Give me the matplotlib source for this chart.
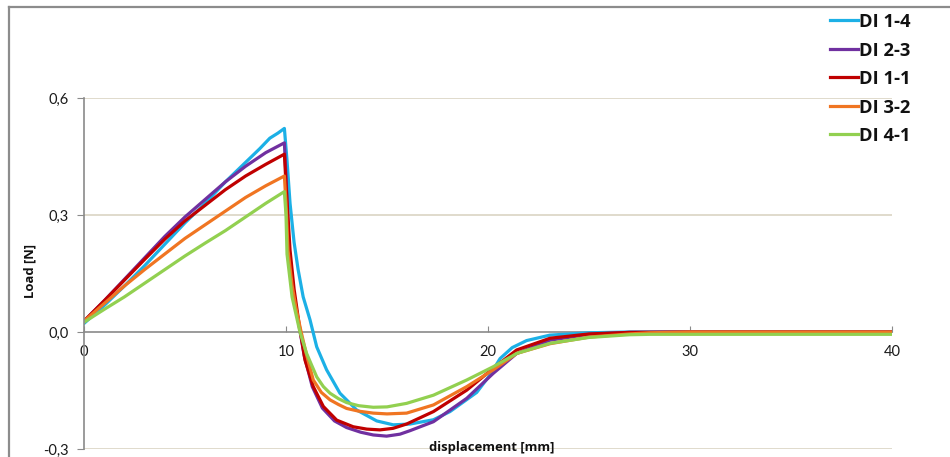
import matplotlib
matplotlib.use('Agg')
import matplotlib.pyplot as plt
from matplotlib.lines import Line2D

plt.rcParams['font.family'] = ['Lato', 'DejaVu Sans']

# Load vs. displacement, one list pair per specimen
x_di14 = [0, 1, 2, 3, 4, 5, 6, 7, 8, 8.7, 9.2, 9.6, 9.92, 10.05, 10.2, 10.4, 10.6,
          10.85, 11.19, 11.52, 12.01, 12.67, 13.5, 14.49, 15.31, 16.14, 17.3, 18.12, 19.44,
          20.1, 20.6, 21.2, 21.91, 23.07, 25, 27, 30, 35, 40]
y_di14 = [0.022, 0.068, 0.118, 0.17, 0.225, 0.28, 0.33, 0.385, 0.435, 0.47, 0.497, 0.51,
          0.522, 0.44, 0.33, 0.23, 0.16, 0.09, 0.031, -0.038, -0.097, -0.157, -0.20, -0.228,
          -0.238, -0.236, -0.225, -0.204, -0.155, -0.11, -0.068, -0.04, -0.022, -0.008,
          -0.002, 0.0, 0.0, 0.0, 0.0]

x_di23 = [0, 1, 2, 3, 4, 5, 6, 7, 8, 9, 9.92, 10.0, 10.15, 10.35, 10.6,
          10.9, 11.3, 11.8, 12.4, 13.0, 13.7, 14.32, 14.98, 15.64, 16.14, 17.3, 18.95, 20.26,
          21.42, 23.07, 25, 27, 30, 35, 40]
y_di23 = [0.028, 0.08, 0.135, 0.19, 0.245, 0.295, 0.34, 0.385, 0.425, 0.46, 0.485, 0.40,
          0.21, 0.11, 0.03, -0.06, -0.14, -0.195, -0.228, -0.245, -0.257, -0.264, -0.267,
          -0.262, -0.253, -0.230, -0.170, -0.106, -0.055, -0.021, -0.006, -0.001, 0.0, 0.0,
          0.0]

x_di11 = [0, 1, 2, 3, 4, 5, 6, 7, 8, 9, 9.92, 10.0, 10.2, 10.4, 10.65, 10.94,
          11.35, 11.85, 12.51, 13.33, 14.0, 14.65, 15.3, 15.97, 17.3, 18.95, 20.26, 21.42,
          23.07, 25, 27, 30, 35, 40]
y_di11 = [0.028, 0.08, 0.133, 0.186, 0.238, 0.285, 0.325, 0.365, 0.40, 0.43, 0.456, 0.38,
          0.21, 0.11, 0.02, -0.072, -0.140, -0.191, -0.226, -0.243, -0.249, -0.251, -0.247,
          -0.236, -0.204, -0.149, -0.093, -0.046, -0.016, -0.005, -0.001, 0.0, 0.0, 0.0]

x_di32 = [0, 1, 2, 3, 4, 5, 6, 7, 8, 9, 9.92, 10.0, 10.1, 10.3, 10.5,
          10.75, 11.0, 11.35, 11.75, 12.18, 12.6, 13.0, 13.6, 14.32, 15.0, 15.97, 17.3,
          18.95, 20.26, 21.42, 23.07, 25, 27, 28, 30, 35, 40]
y_di32 = [0.028, 0.073, 0.118, 0.16, 0.20, 0.24, 0.275, 0.31, 0.345, 0.375, 0.40, 0.33,
          0.21, 0.12, 0.06, 0.0, -0.055, -0.123, -0.155, -0.174, -0.186, -0.196, -0.203,
          -0.208, -0.210, -0.208, -0.187, -0.140, -0.097, -0.055, -0.030, -0.013, -0.005,
          -0.002, 0.0, 0.0, 0.0]

x_di41 = [0, 1, 2, 3, 4, 5, 6, 7, 8, 9, 9.92, 10.0, 10.05, 10.3, 10.69,
          11.02, 11.52, 11.85, 12.18, 12.6, 13.0, 13.6, 14.32, 15.0, 15.97, 17.3, 18.95,
          20.26, 21.42, 23.07, 25, 27, 28, 30, 35, 40]
y_di41 = [0.025, 0.058, 0.09, 0.125, 0.16, 0.195, 0.228, 0.26, 0.295, 0.33, 0.36, 0.30,
          0.20, 0.09, 0.0, -0.055, -0.115, -0.140, -0.157, -0.171, -0.181, -0.189, -0.193,
          -0.192, -0.183, -0.162, -0.123, -0.089, -0.055, -0.029, -0.014, -0.007, -0.006,
          -0.006, -0.006, -0.006]

labels = ['DI 1-4', 'DI 2-3', 'DI 1-1', 'DI 3-2', 'DI 4-1']
colors = ['#1cb0e6', '#7030a0', '#c00000', '#f07522', '#92d050']
series = [(x_di14, y_di14), (x_di23, y_di23), (x_di11, y_di11),
          (x_di32, y_di32), (x_di41, y_di41)]

x_ticks = [0, 10, 20, 30, 40]
y_ticks = [-0.3, 0.0, 0.3, 0.6]
y_tick_labels = ['-0,3', '0,0', '0,3', '0,6']

W, H = 950, 457
fig = plt.figure(figsize=(W / 100, H / 100), dpi=100)
ax = fig.add_axes([84 / W, 1 - 449 / H, (892 - 84) / W, (449 - 98) / H])

for (xs, ys), lab, col in zip(series, labels, colors):
    ax.plot(xs, ys, color=col, lw=2.3, label=lab, solid_joinstyle='round')

ax.set_xlim(0, 40)
ax.set_ylim(-0.3, 0.6)

# horizontal gridlines
for yv in [0.6, 0.3, -0.3]:
    ax.axhline(yv, color='#ddd8c8', lw=1.3, zorder=0)

for s in ['top', 'right']:
    ax.spines[s].set_visible(False)
ax.spines['bottom'].set_position(('data', 0))
ax.spines['bottom'].set_color('#8a8a8a')
ax.spines['left'].set_color('#8a8a8a')
ax.spines['bottom'].set_linewidth(1.2)
ax.spines['left'].set_linewidth(1.2)
ax.spines['bottom'].set_zorder(0.5)

ax.set_xticks(x_ticks)
ax.set_xticklabels([str(v) for v in x_ticks])
ax.set_yticks(y_ticks)
ax.set_yticklabels(y_tick_labels)
ax.tick_params(axis='x', direction='in', length=4, color='#8a8a8a', pad=9,
               labelsize=10.5, labelcolor='#1a1a1a')
ax.tick_params(axis='y', direction='out', length=5, color='#8a8a8a', pad=6,
               labelsize=10.5, labelcolor='#1a1a1a')

bold = dict(family='Open Sans', fontweight='bold', color='#111111')
fig.text(30 / W, 1 - 271 / H, 'Load [N]', rotation=90, ha='center', va='center',
         fontsize=9.4, **bold)
fig.text(492 / W, 1 - 447 / H, 'displacement [mm]', ha='center', va='center',
         fontsize=9.4, **bold)

# legend entries, stacked down the right edge
for i, (lab, col) in enumerate(zip(labels, colors)):
    yc = 1 - (20 + 28.5 * i) / H
    fig.add_artist(Line2D([830 / W, 858 / W], [yc, yc], color=col, lw=2.3,
                          transform=fig.transFigure))
    fig.text(859 / W, yc, lab, ha='left', va='center_baseline', fontsize=13.2, **bold)

# outer chart frame
fig.add_artist(Line2D([9 / W, 9 / W], [0, 1 - 7 / H], color='#8c8c8c', lw=1.6,
                      transform=fig.transFigure))
fig.add_artist(Line2D([9 / W, 1], [1 - 7 / H, 1 - 7 / H], color='#8c8c8c', lw=1.6,
                      transform=fig.transFigure))

fig.savefig('out.png', dpi=100)
